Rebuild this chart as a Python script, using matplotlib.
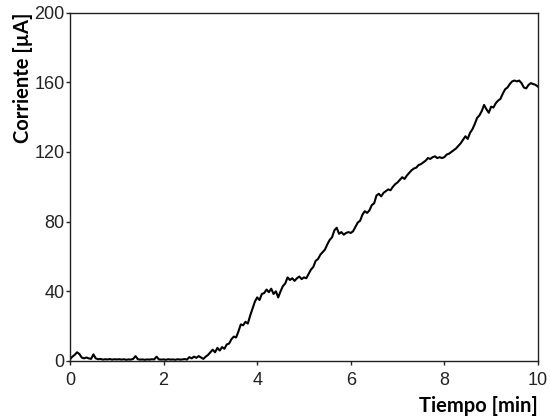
import numpy as np
import matplotlib
matplotlib.use("Agg")
import matplotlib.pyplot as plt

# current trace sampled every 0.05 min
tiempo = np.arange(0, 201) * 0.05
corriente = [
    1.0, 2.5, 3.5, 5.0, 4.0, 2.0, 1.5, 2.0, 1.5, 1.2,
    3.8, 1.5, 1.0, 1.2, 0.8, 1.0, 0.9, 1.1, 0.8, 1.0,
    0.9, 1.0, 0.8, 1.0, 0.7, 0.9, 0.8, 1.2, 2.8, 1.0,
    0.8, 0.9, 0.7, 0.9, 0.8, 1.0, 0.9, 2.5, 0.9, 0.8,
    0.9, 0.7, 1.0, 0.8, 0.9, 0.7, 1.0, 0.8, 0.9, 1.1,
    0.8, 2.2, 1.5, 2.5, 1.8, 2.8, 2.0, 1.2, 2.5, 3.5,
    5.0, 6.5, 5.0, 7.5, 6.0, 8.0, 7.0, 9.5, 10.0, 12.5,
    14.0, 13.5, 17.0, 21.0, 20.5, 22.5, 21.5, 26.0, 30.0, 34.0,
    36.5, 35.0, 38.5, 39.0, 41.0, 39.5, 41.5, 38.5, 40.0, 36.5,
    40.0, 43.0, 44.5, 48.0, 46.5, 47.5, 46.0, 47.5, 48.5, 47.0,
    48.0, 47.5, 50.0, 52.5, 54.0, 57.5, 58.5, 61.0, 62.5, 64.0,
    67.0, 69.5, 71.0, 75.0, 76.5, 73.0, 74.0, 72.5, 73.5, 74.0,
    73.5, 74.5, 77.0, 79.5, 80.5, 84.0, 86.0, 85.0, 86.5, 89.5,
    90.5, 95.0, 96.0, 94.5, 96.5, 97.5, 98.5, 98.0, 100.0, 101.5,
    102.5, 104.0, 105.5, 104.5, 106.5, 108.0, 109.5, 110.5, 111.0, 112.5,
    113.0, 114.0, 115.0, 116.5, 116.0, 117.0, 117.5, 116.5, 117.0, 116.5,
    117.0, 118.5, 119.0, 120.0, 121.0, 122.0, 123.5, 125.0, 127.0, 129.0,
    127.5, 131.0, 133.0, 136.0, 139.5, 141.0, 143.5, 147.0, 144.5, 142.5,
    146.0, 145.5, 148.0, 149.5, 150.5, 153.5, 156.0, 157.0, 159.0, 160.5,
    161.0, 160.5, 161.0, 159.5, 157.0, 156.5, 158.5, 159.5, 159.0, 158.5,
    157.5,
]

x_ticks = [0, 2, 4, 6, 8, 10]
y_ticks = [0, 40, 80, 120, 160, 200]

fig = plt.figure(figsize=(5.5, 4.2), dpi=100)
ax = fig.add_axes([0.1273, 0.1405, 0.8507, 0.8295])

ax.plot(tiempo, corriente, color="#000000", linewidth=1.5)

ax.set_xlim(0, 10)
ax.set_ylim(0, 200)
ax.set_xticks(x_ticks)
ax.set_yticks(y_ticks)

for side in ["left", "bottom", "top", "right"]:
    ax.spines[side].set_linewidth(1.0)
    ax.spines[side].set_color("#222222")

ax.tick_params(direction="out", length=3, width=1.0, color="#222222",
               labelsize=13, labelcolor="#222222")
ax.tick_params(axis="x", pad=5)
ax.tick_params(axis="y", pad=1)
for lbl in ax.get_xticklabels() + ax.get_yticklabels():
    lbl.set_family("Liberation Sans")

ax.set_xlabel("Tiempo [min]", fontsize=14.5, fontweight="bold",
              family="Lato", loc="right", labelpad=5)
ax.set_ylabel("Corriente [µA]", fontsize=14.5, fontweight="bold",
              family="Lato", loc="top", labelpad=1)

fig.savefig("out.png", dpi=100)
